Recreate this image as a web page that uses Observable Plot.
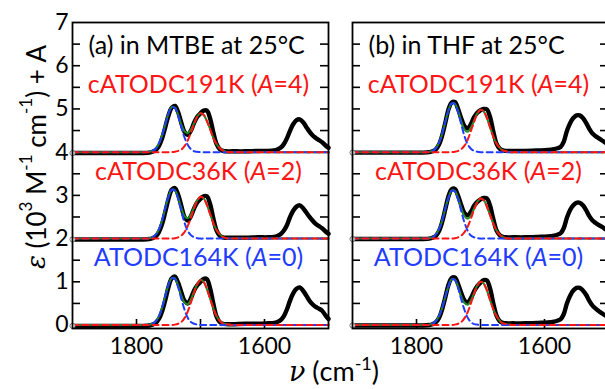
<!DOCTYPE html>
<html>
<head>
<meta charset="utf-8">
<script src="https://cdn.jsdelivr.net/npm/d3@7"></script>
<script src="https://cdn.jsdelivr.net/npm/@observablehq/plot@0.6"></script>
<style>
  body { margin: 0; background: #fff; }
  #chart { position: relative; width: 605px; height: 389px; overflow: hidden; background: #fff; }
  #chart svg { max-width: none !important; }
</style>
</head>
<body>
<div id="chart"></div>
<script>
// Panels and samples
const panels = ["a", "b"];
const panelTitles = ["(a) in MTBE at 25°C", "(b) in THF at 25°C"];
const sampleNames = ["ATODC164K", "cATODC36K", "cATODC191K"];
const sampleShifts = [0, 2, 4];
const sampleColors = ["#1f3cff", "#ff1414", "#ff1414"];

// Tick values
const yLabelTicks = [0, 1, 2, 3, 4, 5, 6, 7];
const yMarkTicks = [0.5, 1, 1.5, 2, 2.5, 3, 3.5, 4, 4.5, 5, 5.5, 6, 6.5];
const xLabelTicks = [1800, 1600];
const xMarkTicks = [1800, 1700, 1600];

// Measured spectra (wavenumber, cm^-1) and molar absorption (10^3 M^-1 cm^-1)
const measWave = [1900, 1850, 1800, 1790, 1780, 1775, 1770, 1765, 1760, 1755, 1750, 1745, 1740, 1735, 1730, 1725, 1720, 1715, 1710, 1705, 1700, 1695, 1690, 1685, 1680, 1675, 1670, 1665, 1660, 1650, 1630, 1610, 1595, 1585, 1580, 1575, 1570, 1565, 1560, 1555, 1550, 1545, 1540, 1535, 1530, 1525, 1520, 1515, 1510, 1505, 1500];

const mtbe164 = [-0.02, -0.02, -0.02, -0.02, -0.01, 0.01, 0.05, 0.14, 0.32, 0.58, 0.88, 1.08, 1.12, 0.98, 0.76, 0.56, 0.50, 0.62, 0.80, 0.92, 1.00, 1.07, 1.06, 0.85, 0.50, 0.20, 0.07, 0.03, 0.02, 0.02, 0.03, 0.03, 0.04, 0.05, 0.07, 0.11, 0.20, 0.36, 0.57, 0.74, 0.84, 0.87, 0.80, 0.69, 0.57, 0.48, 0.42, 0.38, 0.33, 0.23, 0.14];
const mtbe36 = [-0.02, -0.02, -0.02, -0.02, -0.01, 0.01, 0.05, 0.15, 0.34, 0.62, 0.92, 1.13, 1.17, 1.02, 0.76, 0.50, 0.42, 0.52, 0.70, 0.84, 0.92, 0.98, 0.98, 0.80, 0.47, 0.19, 0.07, 0.03, 0.02, 0.02, 0.02, 0.03, 0.03, 0.04, 0.06, 0.10, 0.18, 0.31, 0.50, 0.65, 0.74, 0.77, 0.71, 0.61, 0.51, 0.42, 0.34, 0.29, 0.24, 0.17, 0.11];
const mtbe191 = [-0.02, -0.02, -0.02, -0.02, -0.01, 0.01, 0.05, 0.14, 0.32, 0.58, 0.85, 1.03, 1.07, 0.93, 0.68, 0.47, 0.40, 0.50, 0.68, 0.82, 0.90, 0.96, 0.96, 0.78, 0.46, 0.19, 0.07, 0.03, 0.02, 0.02, 0.02, 0.03, 0.03, 0.04, 0.06, 0.10, 0.18, 0.32, 0.50, 0.65, 0.74, 0.76, 0.70, 0.59, 0.48, 0.39, 0.33, 0.28, 0.23, 0.16, 0.10];
const thf164 = [-0.01, -0.01, -0.01, -0.01, 0, 0.02, 0.06, 0.16, 0.36, 0.64, 0.93, 1.09, 1.10, 0.95, 0.74, 0.57, 0.52, 0.62, 0.78, 0.90, 0.98, 1.04, 1.03, 0.84, 0.50, 0.22, 0.09, 0.05, 0.04, 0.04, 0.04, 0.05, 0.06, 0.08, 0.10, 0.13, 0.25, 0.50, 0.68, 0.80, 0.86, 0.86, 0.80, 0.70, 0.56, 0.45, 0.38, 0.32, 0.27, 0.22, 0.17];
const thf36 = [-0.01, -0.01, -0.01, -0.01, 0, 0.02, 0.06, 0.17, 0.38, 0.68, 0.98, 1.14, 1.15, 0.99, 0.77, 0.59, 0.54, 0.62, 0.76, 0.85, 0.91, 0.94, 0.93, 0.76, 0.45, 0.19, 0.08, 0.04, 0.03, 0.03, 0.03, 0.04, 0.05, 0.07, 0.09, 0.12, 0.24, 0.48, 0.66, 0.77, 0.83, 0.83, 0.77, 0.66, 0.52, 0.42, 0.36, 0.31, 0.27, 0.22, 0.17];
const thf191 = [-0.01, -0.01, -0.01, -0.01, 0, 0.02, 0.06, 0.17, 0.38, 0.68, 0.99, 1.15, 1.16, 1.00, 0.78, 0.60, 0.55, 0.65, 0.81, 0.91, 0.97, 1.00, 0.99, 0.81, 0.48, 0.20, 0.08, 0.04, 0.03, 0.03, 0.03, 0.04, 0.05, 0.07, 0.09, 0.12, 0.24, 0.49, 0.67, 0.79, 0.85, 0.85, 0.79, 0.68, 0.54, 0.43, 0.37, 0.32, 0.27, 0.22, 0.17];

// Fitted band components (higher- and lower-frequency carbonyl bands)
const fitWave = [1900, 1800, 1790, 1785, 1780, 1775, 1770, 1765, 1760, 1755, 1750, 1745, 1740, 1735, 1730, 1725, 1720, 1715, 1710, 1705, 1700, 1695, 1690, 1685, 1680, 1675, 1670, 1665, 1660, 1655, 1650, 1640, 1600, 1500];

const mtbe164Hi = [0, 0, 0, 0, 0.01, 0.03, 0.09, 0.20, 0.40, 0.67, 0.93, 1.08, 1.07, 0.88, 0.61, 0.36, 0.17, 0.07, 0.03, 0.01, 0, 0, 0, 0, 0, 0, 0, 0, 0, 0, 0, 0, 0, 0];
const mtbe36Hi = [0, 0, 0, 0, 0.01, 0.03, 0.09, 0.21, 0.42, 0.70, 0.97, 1.13, 1.11, 0.92, 0.64, 0.37, 0.18, 0.08, 0.03, 0.01, 0, 0, 0, 0, 0, 0, 0, 0, 0, 0, 0, 0, 0, 0];
const mtbe191Hi = [0, 0, 0, 0, 0.01, 0.03, 0.08, 0.20, 0.39, 0.64, 0.89, 1.04, 1.02, 0.84, 0.58, 0.34, 0.17, 0.07, 0.02, 0.01, 0, 0, 0, 0, 0, 0, 0, 0, 0, 0, 0, 0, 0, 0];
const thf164Hi = [0, 0, 0, 0, 0.01, 0.03, 0.09, 0.20, 0.39, 0.65, 0.90, 1.06, 1.04, 0.86, 0.59, 0.35, 0.17, 0.07, 0.02, 0.01, 0, 0, 0, 0, 0, 0, 0, 0, 0, 0, 0, 0, 0, 0];
const thf36Hi = [0, 0, 0, 0, 0.01, 0.03, 0.09, 0.21, 0.41, 0.69, 0.95, 1.11, 1.09, 0.91, 0.63, 0.37, 0.18, 0.07, 0.03, 0.01, 0, 0, 0, 0, 0, 0, 0, 0, 0, 0, 0, 0, 0, 0];
const thf191Hi = [0, 0, 0, 0, 0.01, 0.03, 0.09, 0.21, 0.42, 0.70, 0.97, 1.13, 1.11, 0.92, 0.64, 0.37, 0.18, 0.08, 0.03, 0.01, 0, 0, 0, 0, 0, 0, 0, 0, 0, 0, 0, 0, 0, 0];

const mtbe164Lo = [0, 0, 0, 0, 0, 0, 0, 0, 0, 0, 0, 0, 0.01, 0.03, 0.07, 0.16, 0.31, 0.52, 0.75, 0.94, 1.04, 1.00, 0.83, 0.61, 0.39, 0.21, 0.10, 0.04, 0.02, 0.01, 0, 0, 0, 0];
const mtbe36Lo = [0, 0, 0, 0, 0, 0, 0, 0, 0, 0, 0, 0, 0.01, 0.03, 0.07, 0.15, 0.29, 0.48, 0.70, 0.88, 0.97, 0.93, 0.78, 0.57, 0.36, 0.20, 0.10, 0.04, 0.01, 0, 0, 0, 0, 0];
const mtbe191Lo = [0, 0, 0, 0, 0, 0, 0, 0, 0, 0, 0, 0, 0.01, 0.03, 0.06, 0.14, 0.27, 0.45, 0.65, 0.82, 0.90, 0.86, 0.72, 0.53, 0.33, 0.19, 0.09, 0.04, 0.01, 0, 0, 0, 0, 0];
const thf164Lo = [0, 0, 0, 0, 0, 0, 0, 0, 0, 0, 0, 0, 0.01, 0.03, 0.07, 0.16, 0.30, 0.50, 0.72, 0.91, 1.00, 0.96, 0.80, 0.58, 0.37, 0.21, 0.10, 0.04, 0.02, 0.01, 0, 0, 0, 0];
const thf36Lo = [0, 0, 0, 0, 0, 0, 0, 0, 0, 0, 0, 0, 0.01, 0.03, 0.07, 0.15, 0.28, 0.46, 0.67, 0.84, 0.93, 0.89, 0.74, 0.54, 0.35, 0.19, 0.09, 0.04, 0.01, 0, 0, 0, 0, 0];
const thf191Lo = [0, 0, 0, 0, 0, 0, 0, 0, 0, 0, 0, 0, 0.01, 0.03, 0.07, 0.15, 0.29, 0.49, 0.70, 0.89, 0.98, 0.94, 0.79, 0.57, 0.36, 0.20, 0.10, 0.04, 0.02, 0, 0, 0, 0, 0];

const measured = { a: [mtbe164, mtbe36, mtbe191], b: [thf164, thf36, thf191] };
const bandHi = { a: [mtbe164Hi, mtbe36Hi, mtbe191Hi], b: [thf164Hi, thf36Hi, thf191Hi] };
const bandLo = { a: [mtbe164Lo, mtbe36Lo, mtbe191Lo], b: [thf164Lo, thf36Lo, thf191Lo] };

// Long-format tables, each spectrum shifted up by its offset A
const measRows = [];
const fitRows = [];
const firstRows = [];
const labelRows = [];
for (const p of panels) {
  sampleNames.forEach((name, i) => {
    const A = sampleShifts[i];
    const key = p + i;
    measured[p][i].forEach((v, j) => measRows.push({ panel: p, key, x: measWave[j], y: v + A }));
    firstRows.push({ panel: p, x: measWave[0], y: measured[p][i][0] + A });
    fitWave.forEach((w, j) => {
      const hi = bandHi[p][i][j], lo = bandLo[p][i][j];
      fitRows.push({ panel: p, key, x: w, hi: hi + A, lo: lo + A, total: hi + lo + A });
    });
    labelRows.push({ panel: p, A, text: `${name} (A=${A})`, color: sampleColors[i] });
  });
}
const titleRows = panels.map((p, i) => ({ panel: p, text: panelTitles[i] }));

const frameW = 257;   // facet width in px
const frameH = 306;   // facet height in px
const tickLen = 9;
const dash = "6,4";

const chart = Plot.plot({
  width: 615,
  height: 389,
  marginLeft: 71,
  marginRight: 6,
  marginTop: 22,
  marginBottom: 61,
  style: { fontFamily: "Lato, 'Open Sans', sans-serif", fontSize: "22px", color: "black", background: "white", overflow: "visible", maxWidth: "none" },
  fx: { domain: panels, paddingInner: 0.0854, paddingOuter: 0, axis: null, label: null },
  x: { domain: [1900, 1500], label: null },
  y: { domain: [-0.08, 7], label: null },
  marks: [
    Plot.axisY({ ticks: yLabelTicks, tickFormat: d => String(d), tickSize: 0, tickPadding: 4, fontSize: 23, anchor: "left", label: null }),
    Plot.axisX({ ticks: xLabelTicks, tickFormat: d => String(d), tickSize: 0, tickPadding: 9, fontSize: 23, label: null }),
    Plot.tickY(yMarkTicks, { y: d => d, insetRight: frameW - tickLen, stroke: "black", strokeWidth: 1.6 }),
    Plot.tickY(yMarkTicks, { y: d => d, insetLeft: frameW - tickLen, stroke: "black", strokeWidth: 1.6 }),
    Plot.tickX(xMarkTicks, { x: d => d, insetTop: frameH - tickLen, stroke: "black", strokeWidth: 1.6 }),
    Plot.line(measRows, { fx: "panel", x: "x", y: "y", z: "key", stroke: "black", strokeWidth: 4.4, curve: "catmull-rom" }),
    Plot.line(fitRows, { fx: "panel", x: "x", y: "total", z: "key", stroke: "#228b22", strokeWidth: 2, curve: "catmull-rom" }),
    Plot.line(fitRows, { fx: "panel", x: "x", y: "hi", z: "key", stroke: "#1f3cff", strokeWidth: 2, strokeDasharray: dash, curve: "catmull-rom" }),
    Plot.line(fitRows, { fx: "panel", x: "x", y: "lo", z: "key", stroke: "#ff1414", strokeWidth: 2, strokeDasharray: dash, curve: "catmull-rom" }),
    Plot.dot(firstRows, { fx: "panel", x: "x", y: "y", r: 2.6, fill: "white", stroke: "#777", strokeWidth: 1 }),
    Plot.text(titleRows, { fx: "panel", text: "text", frameAnchor: "top-left", dx: 16, dy: 23, textAnchor: "start", lineAnchor: "middle", fontSize: 25, fill: "black" }),
    Plot.text(labelRows, { fx: "panel", y: d => d.A + 1.55, text: "text", fill: "color", fontSize: 25, dx: -2, lineAnchor: "middle" }),
    Plot.frame({ stroke: "black", strokeWidth: 1.8 })
  ]
});
chart.style.maxWidth = "none";

const svg = d3.select(chart);

// Italic A in the sample labels
svg.selectAll("text").each(function () {
  if (this.childElementCount) return;
  const s = this.textContent;
  const m = s.match(/^(.*\()A(=\d\))$/);
  if (!m) return;
  const t = d3.select(this);
  t.text(null);
  t.append("tspan").text(m[1]);
  t.append("tspan").attr("font-style", "italic").text("A");
  t.append("tspan").text(m[2]);
});

// y-axis title: ε (10^3 M^-1 cm^-1) + A
const yTitle = svg.append("text")
  .attr("transform", "translate(36,157) rotate(-90)")
  .attr("text-anchor", "middle")
  .attr("dominant-baseline", "central")
  .attr("font-size", 26)
  .attr("fill", "black");
yTitle.append("tspan").attr("font-family", "'DejaVu Serif', serif").attr("font-style", "italic").text("ε");
yTitle.append("tspan").text(" (10");
yTitle.append("tspan").attr("baseline-shift", "super").attr("font-size", 17).text("3");
yTitle.append("tspan").text(" M");
yTitle.append("tspan").attr("baseline-shift", "super").attr("font-size", 17).text("-1");
yTitle.append("tspan").text(" cm");
yTitle.append("tspan").attr("baseline-shift", "super").attr("font-size", 17).text("-1");
yTitle.append("tspan").text(") + A");

// x-axis title: ν (cm^-1)
const xTitle = svg.append("text")
  .attr("x", 334)
  .attr("y", 381)
  .attr("text-anchor", "middle")
  .attr("font-size", 27)
  .attr("fill", "black");
xTitle.append("tspan").attr("font-family", "'DejaVu Serif', serif").attr("font-style", "italic").text("ν");
xTitle.append("tspan").text(" (cm");
xTitle.append("tspan").attr("baseline-shift", "super").attr("font-size", 18).text("-1");
xTitle.append("tspan").text(")");

document.getElementById("chart").appendChild(chart);
</script>
</body>
</html>
